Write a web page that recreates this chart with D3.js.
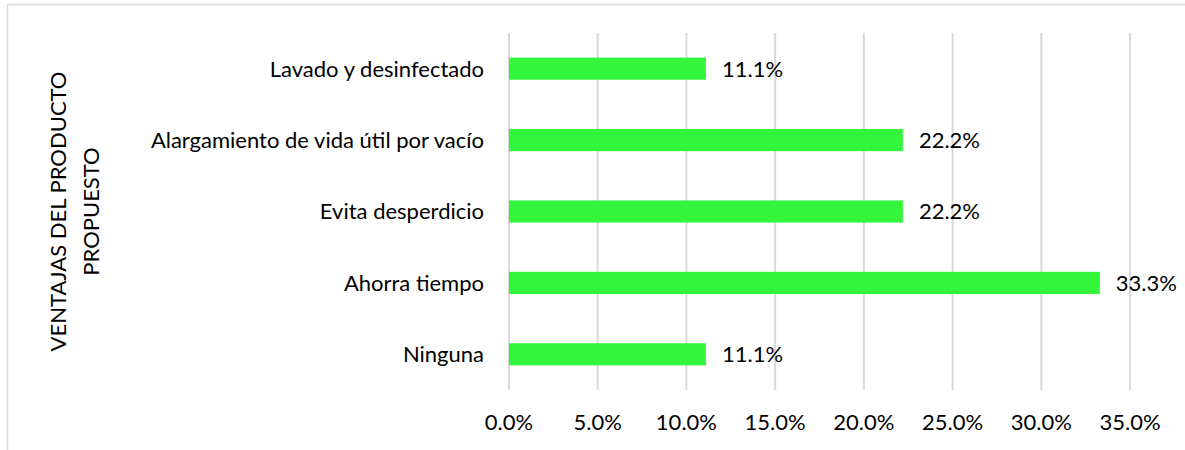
<!DOCTYPE html>
<meta charset="utf-8">
<style>
  body { margin: 0; background: #fff; }
  .lbl { font-family: Lato, "Open Sans", sans-serif; fill: #000; }
</style>
<body>
<div id="chart"></div>
<script src="https://d3js.org/d3.v7.min.js"></script>
<script>
  // categories top to bottom, values in percent
  var categories = ["Lavado y desinfectado", "Alargamiento de vida útil por vacío", "Evita desperdicio", "Ahorra tiempo", "Ninguna"];
  var values = [11.1, 22.2, 22.2, 33.3, 11.1];
  var tickValues = [0, 5, 10, 15, 20, 25, 30, 35];
  var axisTitle = ["VENTAJAS DEL PRODUCTO", "PROPUESTO"];

  var W = 1185, H = 450;
  var margin = {top: 33, left: 509, right: 55, bottom: 60};

  var svg = d3.select("#chart").append("svg")
    .attr("width", W).attr("height", H);

  // chart area border (only left and top visible)
  svg.append("rect")
    .attr("x", 7.5).attr("y", 4.5)
    .attr("width", W + 20).attr("height", H + 20)
    .attr("fill", "none").attr("stroke", "#d9d9d9").attr("stroke-width", 1.5);

  var x = d3.scaleLinear().domain([0, 35]).range([margin.left, 1130]);
  var y = d3.scaleBand().domain(categories)
    .range([margin.top, 390]).paddingInner(0.69).paddingOuter(0.345);

  // gridlines
  svg.append("g").selectAll("line")
    .data(tickValues).enter().append("line")
    .attr("x1", function (d) { return x(d); })
    .attr("x2", function (d) { return x(d); })
    .attr("y1", margin.top).attr("y2", 390)
    .attr("stroke", "#d9d9d9").attr("stroke-width", 2);

  // bars
  svg.append("g").selectAll("rect")
    .data(values).enter().append("rect")
    .attr("x", x(0))
    .attr("y", function (d, i) { return y(categories[i]); })
    .attr("width", function (d) { return x(d) - x(0); })
    .attr("height", y.bandwidth())
    .attr("fill", "#33f53b");

  // data labels
  svg.append("g").selectAll("text")
    .data(values).enter().append("text")
    .attr("class", "lbl")
    .attr("x", function (d) { return x(d) + 16; })
    .attr("y", function (d, i) { return y(categories[i]) + y.bandwidth() / 2; })
    .attr("dy", "0.36em")
    .attr("font-size", "22px")
    .text(function (d) { return d.toFixed(1) + "%"; });

  // category labels
  svg.append("g").selectAll("text")
    .data(categories).enter().append("text")
    .attr("class", "lbl")
    .attr("x", 484)
    .attr("y", function (d) { return y(d) + y.bandwidth() / 2; })
    .attr("dy", "0.36em")
    .attr("text-anchor", "end")
    .attr("font-size", "22px")
    .text(function (d) { return d; });

  // x tick labels
  svg.append("g").selectAll("text")
    .data(tickValues).enter().append("text")
    .attr("class", "lbl")
    .attr("x", function (d) { return x(d); })
    .attr("y", 430)
    .attr("text-anchor", "middle")
    .attr("font-size", "22px")
    .text(function (d) { return d.toFixed(1) + "%"; });

  // axis title, two lines
  svg.append("text")
    .attr("class", "lbl")
    .attr("transform", "translate(66," + ((33 + 390) / 2) + ") rotate(-90)")
    .attr("text-anchor", "middle")
    .attr("font-size", "22px")
    .selectAll("tspan")
    .data(axisTitle).enter().append("tspan")
    .attr("x", 0)
    .attr("dy", function (d, i) { return i === 0 ? 0 : 33; })
    .text(function (d) { return d; });
</script>
</body>
